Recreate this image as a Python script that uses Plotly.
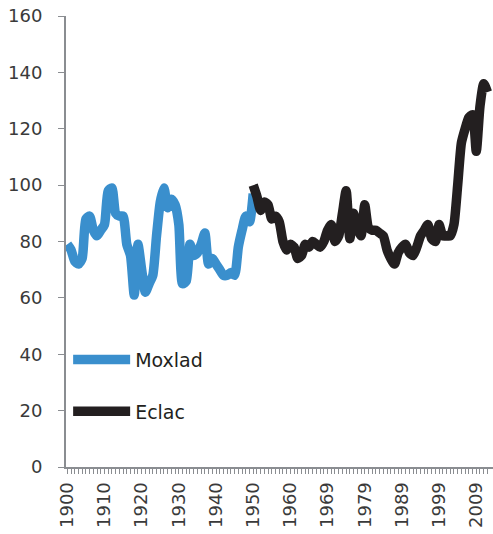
import plotly.graph_objects as go

# Category labels (one per category, label shown every 10th)
years = list(range(1900, 1961)) + list(range(1960, 2013))

moxlad = [79, 77, 73, 72, 74, 88, 89, 84, 82, 84,
          86, 98, 99, 90, 89, 89, 79, 75, 61, 79,
          70, 62, 65, 68, 82, 94, 99, 92, 95, 93,
          86, 65, 66, 79, 75, 76, 79, 83, 72, 74,
          72, 70, 68, 68, 69, 68, 78, 84, 89, 87,
          97]

eclac = [100, 96, 91, 94, 93, 88, 89, 87, 80, 77,
         79, 78, 74, 75, 79, 78, 80, 79, 78, 80,
         84, 86, 80, 82, 90, 98, 81, 90, 85, 82,
         93, 85, 84, 84, 83, 82, 77, 74, 72, 76,
         78, 79, 76, 75, 78, 82, 84, 86, 81, 80,
         86, 82, 82, 82, 86, 100, 115, 120, 124, 125,
         112, 128, 136, 133]

idx = list(range(len(years)))
mox_x = idx[:len(moxlad)]
ecl_x = idx[len(moxlad) - 1:len(moxlad) - 1 + len(eclac)]

tick_text = [str(y) if i % 10 == 0 else "" for i, y in enumerate(years)]

fig = go.Figure()
fig.add_trace(go.Scatter(x=mox_x, y=moxlad, mode="lines", name="Moxlad",
                         legendgroup="a",
                         line=dict(color="#3a8fcd", width=9.5, shape="spline", smoothing=0.6)))
fig.add_trace(go.Scatter(x=ecl_x, y=eclac, mode="lines", name="Eclac",
                         legendgroup="b",
                         line=dict(color="#231f20", width=9.5, shape="spline", smoothing=0.6)))

axis_col = "#8a8d91"
fig.update_layout(
    width=493, height=534,
    margin=dict(l=66, r=0, t=16, b=67),
    paper_bgcolor="white", plot_bgcolor="white",
    font=dict(family="DejaVu Sans", size=18, color="#3a3a3a"),
    showlegend=True,
    legend=dict(x=0.005, y=0.28, xanchor="left", yanchor="top",
                bgcolor="rgba(0,0,0,0)", itemwidth=57,
                tracegroupgap=24,
                font=dict(family="DejaVu Sans", size=19, color="#231f20")),
    xaxis=dict(range=[-0.35, 114.5], tickmode="array", tickvals=idx, ticktext=tick_text,
               tickangle=-90, ticks="outside", ticklen=5, tickcolor=axis_col, tickwidth=1,
               showline=True, linecolor=axis_col, linewidth=2, showgrid=False,
               zeroline=False, automargin=False, ticklabelstandoff=1),
    yaxis=dict(range=[0, 160], dtick=20, ticks="outside", ticklen=6, tickcolor=axis_col,
               tickwidth=1, showline=True, linecolor=axis_col, linewidth=2,
               showgrid=False, zeroline=False, automargin=False, ticklabelstandoff=12),
)

fig.write_html("out.html", config={"displayModeBar": False},
               post_script="document.body.style.margin='0';")
